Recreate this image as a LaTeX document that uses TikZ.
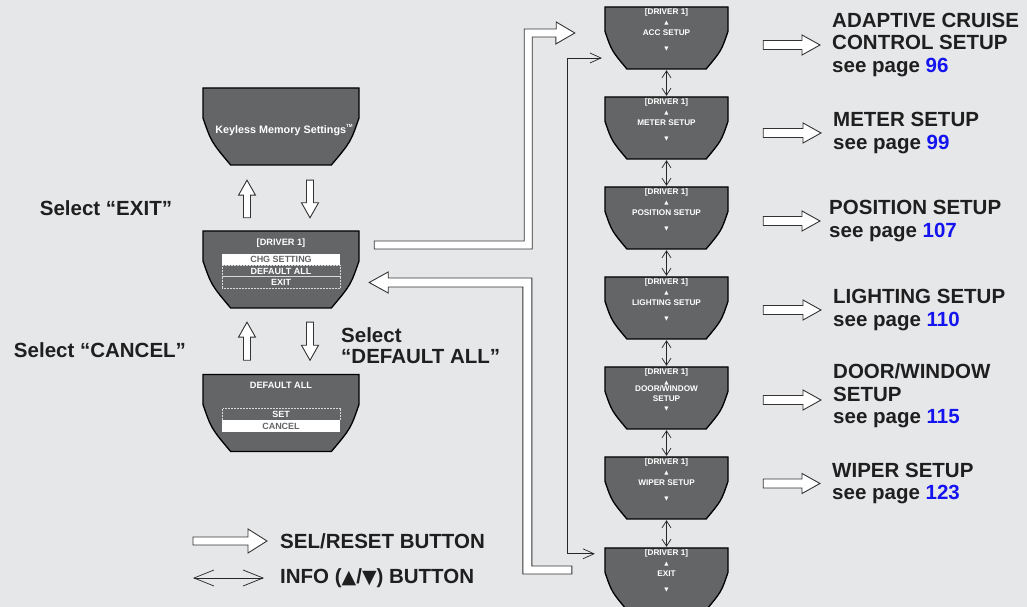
\documentclass[tikz,border=0pt]{standalone}
\usepackage{fontspec}
\setmainfont{Liberation Sans}
\newfontfamily\symf{DejaVu Sans}
\usetikzlibrary{arrows.meta, calc, positioning}
\definecolor{bgcol}{RGB}{230,231,233}
\definecolor{lcd}{RGB}{100,101,103}
\definecolor{pgblue}{RGB}{20,20,240}
\newcommand{\pg}[1]{\textcolor{pgblue}{#1}}
\newcommand{\up}{{\symf\fontsize{5.5}{5.5}\selectfont ▲}}
\newcommand{\dn}{{\symf\fontsize{5.5}{5.5}\selectfont ▼}}
% outline of a display screen, drawn inside the node box
\newcommand{\screenshape}{%
  \path[fill=lcd, draw=black, line width=1.3pt, line join=miter]
  let \p1=(path picture bounding box.north west), \p2=(path picture bounding box.south east),
      \n1={0.175*(\x2-\x1)}, \n2={\y1-1pt-0.38*(\y1-\y2)}, \n3={(\n2+\y2)/2}
  in (\x1+1pt,\y1-1pt) -- (\x2-1pt,\y1-1pt) -- (\x2-1pt,\n2)
  .. controls (\x2-1pt-0.3*\n1,\n3) .. (\x2-1pt-\n1,\y2+1pt)
  -- (\x1+1pt+\n1,\y2+1pt) .. controls (\x1+1pt+0.3*\n1,\n3) .. (\x1+1pt,\n2) -- cycle;}

\begin{document}
\begin{tikzpicture}[x=1pt, y=1pt,
    lscreen/.style={minimum width=158pt, minimum height=79pt, inner sep=0pt, path picture={\screenshape}},
    rscreen/.style={minimum width=125pt, minimum height=64pt, inner sep=0pt, path picture={\screenshape}},
    lcdtxt/.style={text=white, inner sep=0pt, font=\fontsize{9.2}{10}\selectfont\bfseries},
    rtxt/.style={text=white, inner sep=0pt, anchor=north, align=center, font=\fontsize{8.2}{9}\selectfont\bfseries},
    optsel/.style={fill=white, text=lcd, minimum width=118pt, minimum height=11.5pt, inner sep=0pt, font=\fontsize{9}{9}\selectfont\bfseries},
    optbox/.style={draw=white!75!lcd, densely dotted, line width=0.5pt, text=white, minimum width=118pt, minimum height=11.5pt, inner sep=0pt, font=\fontsize{9}{9}\selectfont\bfseries},
    lbl/.style={anchor=west, align=left, inner sep=0pt, text=black!88, font=\fontsize{20.5}{22.5}\selectfont\bfseries},
    hollow/.style={draw=black!80, fill=white, line width=0.9pt, line join=miter},
    block/.style n args={3}{hollow, to path={
        ($(\tikztostart)!#1!90:(\tikztotarget)$)
        -- ($(\tikztotarget)!#3!(\tikztostart)!#1!-90:(\tikztostart)$)
        -- ($(\tikztotarget)!#3!(\tikztostart)!#2!-90:(\tikztostart)$)
        -- (\tikztotarget)
        -- ($(\tikztotarget)!#3!(\tikztostart)!#2!90:(\tikztostart)$)
        -- ($(\tikztotarget)!#3!(\tikztostart)!#1!90:(\tikztostart)$)
        -- ($(\tikztostart)!#1!-90:(\tikztotarget)$) -- cycle}},
    stepper/.style={block={3.5pt}{8.5pt}{15pt}},
    selarrow/.style={block={4.5pt}{10pt}{18pt}},
    info/.style={draw=black!85, line width=0.7pt, >={Straight Barb[length=7pt,width=9pt]}, <->},
    wrap/.style={info, >={Straight Barb[length=11pt,width=10pt]}}
]
\fill[bgcol] (0,0) rectangle (1027,607);
\useasboundingbox (0,0) rectangle (1027,607);

% left column
\node[lscreen] (kms) at (281,480.5) {};
\node[lscreen] (drv) at (281,337.5) {};
\node[lscreen] (dflt) at (281,194) {};

\node[lcdtxt, font=\fontsize{10.8}{12}\selectfont\bfseries] (kmsT) at (284,477) {Keyless Memory Settings\raisebox{6pt}{\fontsize{4.5}{5}\selectfont TM}};

\node[lcdtxt] (drvT) at (281,364) {[DRIVER 1]};
\node[optsel] (chg) at (281,347.5) {CHG SETTING};
\node[optbox] (defall) at (281,336) {DEFAULT ALL};
\node[optbox] (exitopt) at (281,324.5) {EXIT};

\node[lcdtxt] (dfltT) at (281,222) {DEFAULT ALL};
\node[optbox] (setopt) at (281,192.5) {SET};
\node[optsel] (cancel) at (281,181) {CANCEL};

\draw[stepper] ($(drv.north)+(-34,12)$) to ($(kms.south)+(-34,-14)$);
\draw[stepper] ($(kms.south)+(29,-14)$) to ($(drv.north)+(29,12)$);
\draw[stepper] ($(dflt.north)+(-34,13)$) to ($(drv.south)+(-34,-13)$);
\draw[stepper] ($(drv.south)+(29,-13)$) to ($(dflt.north)+(29,13)$);

\node[lbl, anchor=center] (exitL) at (106,399) {Select “EXIT”};
\node[lbl, anchor=center] (cancelL) at (100,257) {Select “CANCEL”};
\node[lbl, font=\fontsize{20.5}{21}\selectfont\bfseries] (dfltL) at (341,261) {Select\\“DEFAULT ALL”};

% right column
\node[rscreen] (acc) at (666.5,569) {};
\node[rscreen] (meter) at (666.5,479) {};
\node[rscreen] (position) at (666.5,389) {};
\node[rscreen] (lighting) at (666.5,299) {};
\node[rscreen] (door) at (666.5,209) {};
\node[rscreen] (wiper) at (666.5,119) {};
\node[rscreen] (exit) at (666.5,28) {};

\node[rtxt] (accT) at ([yshift=-3pt]acc.north) {[DRIVER 1]\\[0.6pt]\up\\[2.4pt]ACC SETUP\\[5.6pt]\dn};
\node[rtxt] (meterT) at ([yshift=-3pt]meter.north) {[DRIVER 1]\\[0.6pt]\up\\[2.4pt]METER SETUP\\[5.6pt]\dn};
\node[rtxt] (positionT) at ([yshift=-3pt]position.north) {[DRIVER 1]\\[0.6pt]\up\\[2.4pt]POSITION SETUP\\[5.6pt]\dn};
\node[rtxt] (lightingT) at ([yshift=-3pt]lighting.north) {[DRIVER 1]\\[0.6pt]\up\\[2.4pt]LIGHTING SETUP\\[5.6pt]\dn};
\node[rtxt] (doorT) at ([yshift=-3pt]door.north) {[DRIVER 1]\\[0.6pt]\up\\[-2.2pt]DOOR/WINDOW\\[1pt]SETUP\\[0.6pt]\dn};
\node[rtxt] (wiperT) at ([yshift=-3pt]wiper.north) {[DRIVER 1]\\[0.6pt]\up\\[2.4pt]WIPER SETUP\\[5.6pt]\dn};
\node[rtxt] (exitT) at ([yshift=-3pt]exit.north) {[DRIVER 1]\\[0.6pt]\up\\[2.4pt]EXIT\\[5.6pt]\dn};

\draw[info] (acc) -- (meter);
\draw[info] (meter) -- (position);
\draw[info] (position) -- (lighting);
\draw[info] (lighting) -- (door);
\draw[info] (door) -- (wiper);
\draw[info] (wiper) -- (exit);
\draw[wrap] ($(acc.west)+(-2,-20)$) -| ($(exit.north west)+(-36,-7)$) -- ($(exit.north west)+(-9,-7)$);

% SEL/RESET into the list and back out
\draw[hollow] ($(acc.west)+(-29,5)$) -- ++(-19,-11) -- ++(0,7) -| ($(drv.east)+(172,20.5)$) -- ++(-158,0) -- ++(0,8) -- ++(150,0) -- ++(0,212) -- ++(32,0) -- ++(0,7) -- cycle;
\draw[hollow] ($(exit.west)+(-32,13)$) -- ++(-40,0) |- ($(drv.east)+(28,-8.5)$) -- ++(0,6) -- ++(-19,-10.5) -- ++(19,-10.5) -- ++(0,6) -| ($(exit.west)+(-81,5)$) -- ++(49,0) -- cycle;

% setup pages
\node[lbl] (accL) at (832,562) {ADAPTIVE CRUISE\\CONTROL SETUP\\see page \pg{96}};
\node[lbl] (meterL) at (833,474) {METER SETUP\\see page \pg{99}};
\node[lbl] (positionL) at (829,386) {POSITION SETUP\\see page \pg{107}};
\node[lbl] (lightingL) at (833,297) {LIGHTING SETUP\\see page \pg{110}};
\node[lbl] (doorL) at (833,211) {DOOR/WINDOW\\SETUP\\see page \pg{115}};
\node[lbl] (wiperL) at (832,123.5) {WIPER SETUP\\see page \pg{123}};

\draw[selarrow] ($(acc.east |- accL.west)+(34,0)$) to ($(accL.west)+(-12,0)$);
\draw[selarrow] ($(meter.east |- meterL.west)+(34,0)$) to ($(meterL.west)+(-12,0)$);
\draw[selarrow] ($(position.east |- positionL.west)+(34,0)$) to ($(positionL.west)+(-9,0)$);
\draw[selarrow] ($(lighting.east |- lightingL.west)+(34,0)$) to ($(lightingL.west)+(-12,0)$);
\draw[selarrow] ($(door.east |- doorL.west)+(34,-4)$) to ($(doorL.west)+(-12,-4)$);
\draw[selarrow] ($(wiper.east |- wiperL.west)+(34,0)$) to ($(wiperL.west)+(-12,0)$);

% legend
\node[lbl] (selL) at (280,66) {SEL/RESET BUTTON};
\node[lbl] (infoL) at (280,29) {INFO ({\symf\fontsize{19}{19}\selectfont ▲}/{\symf\fontsize{19}{19}\selectfont ▼}) BUTTON};
\draw[block={4pt}{12pt}{19pt}] ($(selL.west)+(-87,0)$) to ($(selL.west)+(-13,0)$);
\draw[info, >={Straight Barb[length=20pt,width=16pt]}] ($(infoL.west)+(-87,0)$) -- ($(infoL.west)+(-16,0)$);
\end{tikzpicture}
\end{document}
